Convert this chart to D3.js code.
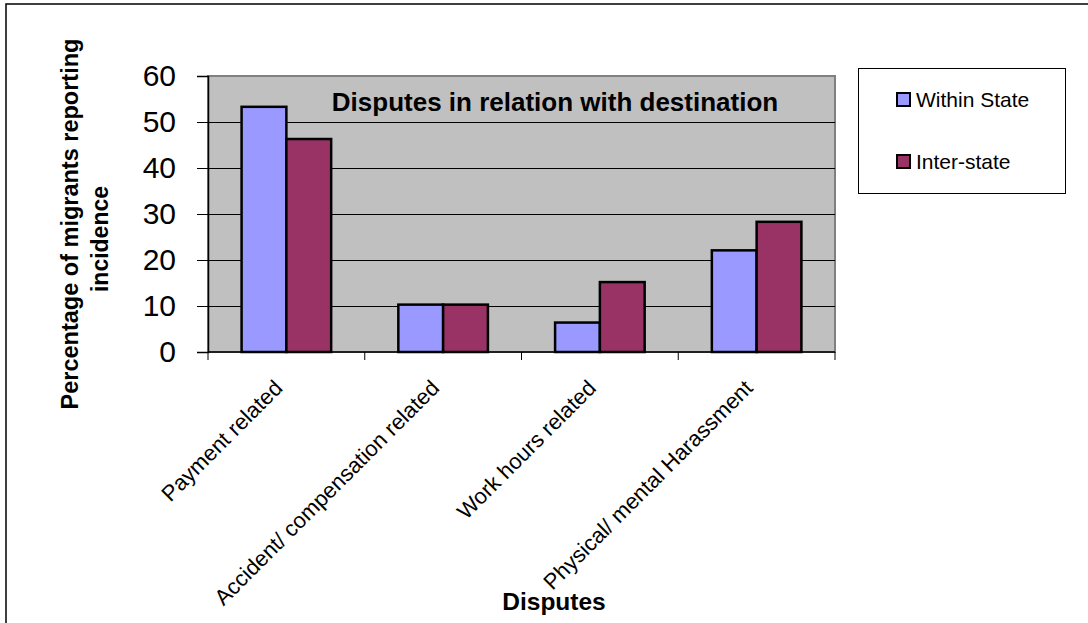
<!DOCTYPE html>
<html>
<head>
<meta charset="utf-8">
<script src="https://cdn.jsdelivr.net/npm/d3@7"></script>
<style>
  html, body { margin: 0; padding: 0; background: #ffffff; }
  svg { display: block; }
  text { font-family: Arial, "Liberation Sans", sans-serif; fill: #000; }
</style>
</head>
<body>
<svg id="chart" width="1088" height="623"></svg>
<script>
// Dispute categories and the share of migrants reporting each one
const categories = ["Payment related", "Accident/ compensation related", "Work hours related", "Physical/ mental Harassment"];
const seriesNames = ["Within State", "Inter-state"];
const withinState = [53.3, 10.3, 6.4, 22.1];
const interState = [46.3, 10.3, 15.2, 28.3];
const yTicks = [0, 10, 20, 30, 40, 50, 60];
const seriesColors = ["#9999FF", "#993366"];

const rows = categories.map((c, i) => ({ category: c, values: [withinState[i], interState[i]] }));

const svg = d3.select("#chart");

// outer chart frame
svg.append("rect")
  .attr("x", 6).attr("y", 4)
  .attr("width", 1100).attr("height", 640)
  .attr("fill", "#fff").attr("stroke", "#000").attr("stroke-width", 1.5);

const plot = { left: 208, right: 835, top: 76, bottom: 352 };

const y = d3.scaleLinear().domain([0, 60]).range([plot.bottom, plot.top]);
const x0 = d3.scaleBand().domain(categories).range([plot.left, plot.right]).padding(0);
// two bars per group with a gap of 1.5 bar widths between groups
const barW = x0.bandwidth() / 3.5;
const x1 = d3.scaleBand().domain(d3.range(seriesNames.length)).range([0, barW * 2]).padding(0);
const groupOffset = barW * 0.75;

// plot area background
svg.append("rect")
  .attr("x", plot.left).attr("y", plot.top)
  .attr("width", plot.right - plot.left).attr("height", plot.bottom - plot.top)
  .attr("fill", "#C0C0C0").attr("stroke", "#808080").attr("stroke-width", 2);

// horizontal gridlines
svg.append("g")
  .selectAll("line")
  .data(yTicks.filter(t => t > 0 && t < 60))
  .join("line")
  .attr("x1", plot.left).attr("x2", plot.right)
  .attr("y1", d => Math.round(y(d)) + 0.5).attr("y2", d => Math.round(y(d)) + 0.5)
  .attr("stroke", "#000").attr("stroke-width", 1);

// bars
const groups = svg.append("g")
  .selectAll("g")
  .data(rows)
  .join("g")
  .attr("transform", d => `translate(${x0(d.category) + groupOffset},0)`);

groups.selectAll("rect")
  .data(d => d.values.map((v, i) => ({ v, i })))
  .join("rect")
  .attr("x", d => x1(d.i))
  .attr("y", d => y(d.v))
  .attr("width", x1.bandwidth())
  .attr("height", d => y(0) - y(d.v))
  .attr("fill", d => seriesColors[d.i])
  .attr("stroke", "#000").attr("stroke-width", 2.5);

// y axis
const yAxis = d3.axisLeft(y).tickValues(yTicks).tickSize(11).tickPadding(21);
const yg = svg.append("g").attr("transform", `translate(${plot.left},0)`).call(yAxis);
yg.select(".domain").attr("stroke", "#000").attr("stroke-width", 1.5);
yg.selectAll(".tick line").attr("stroke", "#000");
yg.selectAll(".tick text")
  .style("font-family", "Arial, 'Liberation Sans', sans-serif")
  .style("font-size", "30px").attr("fill", "#000");

// x axis: ticks at the category boundaries
const xg = svg.append("g");
xg.append("line")
  .attr("x1", plot.left).attr("x2", plot.right)
  .attr("y1", plot.bottom).attr("y2", plot.bottom)
  .attr("stroke", "#000").attr("stroke-width", 1.5);
const boundaries = categories.map(c => x0(c)).concat([x0.range()[1]]);
xg.selectAll("line.tick")
  .data(boundaries)
  .join("line")
  .attr("class", "tick")
  .attr("x1", d => d).attr("x2", d => d)
  .attr("y1", plot.bottom).attr("y2", plot.bottom + 8)
  .attr("stroke", "#000");

// rotated category labels
xg.selectAll("text.cat")
  .data(categories)
  .join("text")
  .attr("class", "cat")
  .attr("transform", d => `translate(${x0(d) + x0.bandwidth() / 2 - 8},384) rotate(-45)`)
  .attr("text-anchor", "end")
  .attr("dy", "0.35em")
  .style("font-size", "22px")
  .text(d => d);

// chart title inside the plot area
svg.append("text")
  .attr("x", 555).attr("y", 111)
  .attr("text-anchor", "middle")
  .style("font-size", "26px").style("font-weight", "bold")
  .text("Disputes in relation with destination");

// axis titles
svg.append("text")
  .attr("x", 554).attr("y", 610)
  .attr("text-anchor", "middle")
  .style("font-size", "24.5px").style("font-weight", "bold")
  .text("Disputes");

svg.append("text")
  .attr("transform", "translate(78,224) rotate(-90)")
  .attr("text-anchor", "middle")
  .style("font-size", "23.5px").style("font-weight", "bold")
  .text("Percentage of migrants reporting");
svg.append("text")
  .attr("transform", "translate(108,239) rotate(-90)")
  .attr("text-anchor", "middle")
  .style("font-size", "23px").style("font-weight", "bold")
  .text("incidence");

// legend
const legend = svg.append("g");
legend.append("rect")
  .attr("x", 858.5).attr("y", 68.5)
  .attr("width", 207).attr("height", 125)
  .attr("fill", "#fff").attr("stroke", "#000").attr("stroke-width", 1);
const items = legend.selectAll("g.item")
  .data(seriesNames)
  .join("g")
  .attr("class", "item")
  .attr("transform", (d, i) => `translate(897,${93 + i * 62})`);
items.append("rect")
  .attr("width", 13).attr("height", 13)
  .attr("fill", (d, i) => seriesColors[i])
  .attr("stroke", "#000").attr("stroke-width", 2);
items.append("text")
  .attr("x", 19).attr("y", 13.5)
  .style("font-size", "21px")
  .text(d => d);
</script>
</body>
</html>
